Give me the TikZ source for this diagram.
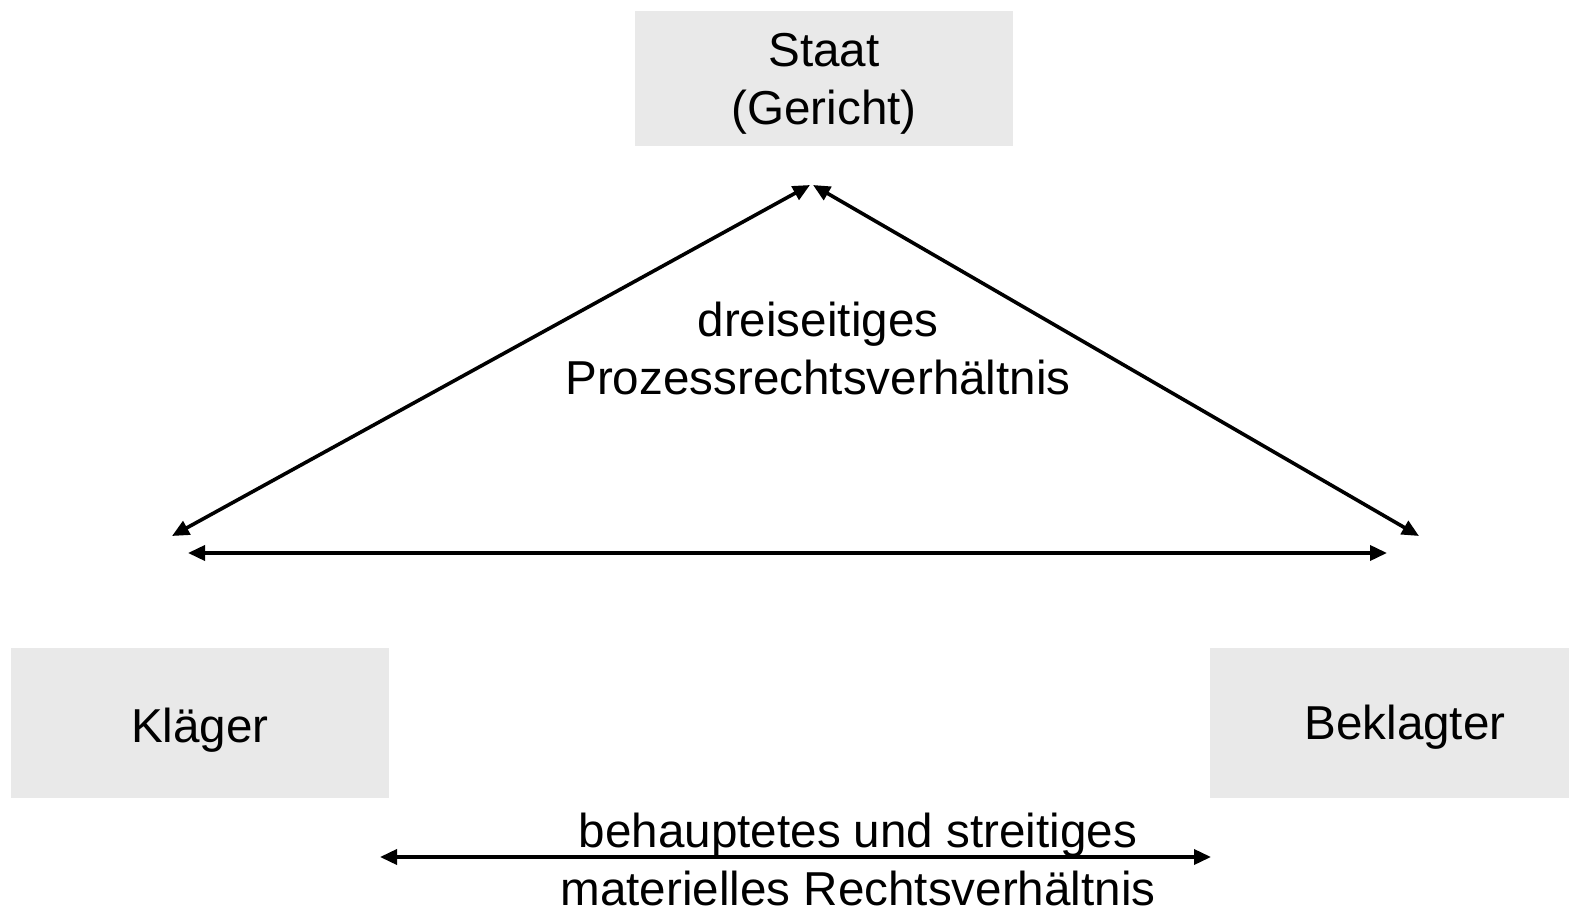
\documentclass[tikz,border=0pt]{standalone}
\usepackage{fontspec}
\setmainfont{Liberation Sans}
\usetikzlibrary{arrows.meta}
\definecolor{boxgray}{HTML}{E9E9E9}
\begin{document}
\begin{tikzpicture}[x=0.5pt,y=-0.5pt,
  box/.style={fill=boxgray, draw=none, inner sep=0pt},
  lbl/.style={font=\fontsize{23.8}{29}\selectfont, inner sep=0pt, align=center},
  tip/.tip={Triangle[length=8.5pt,width=7.5pt]},
  rel/.style={line width=1.8pt, tip-tip}]
\useasboundingbox (0,0) rectangle (1569,908);
% boxes
\node[box, minimum width=189pt, minimum height=67.5pt] (staatbox) at (824,78.5) {};
\node[box, minimum width=189pt, minimum height=75pt] (klaegerbox) at (200,723) {};
\node[box, minimum width=179.5pt, minimum height=75pt] (beklagterbox) at (1389.5,723) {};
% texts
\node[lbl] (staat) at (824,84) {Staat\\(Gericht)};
\node[lbl, anchor=base] (klaeger) at (200,742) {Kläger};
\node[lbl, anchor=base] (beklagter) at (1405,740) {Beklagter};
\node[lbl] (prozess) at (818,348) {dreiseitiges\\Prozessrechtsverhältnis};
\node[lbl] (materiell) at (858,859) {behauptetes und streitiges\\materielles Rechtsverhältnis};
% arrow end points
\coordinate (tl) at (810,185);
\coordinate (tr) at (813,185);
\coordinate (kl) at (172,536);
\coordinate (bk) at (1419,536);
\coordinate (hl) at (188,553);
\coordinate (hr) at (1387,553);
\coordinate (ml) at (380,857);
\coordinate (mr) at (1211,857);
% connectors
\draw[rel] (kl) -- (tl);
\draw[rel] (tr) -- (bk);
\draw[rel] (hl) -- (hr);
\draw[rel] (ml) -- (mr);
\end{tikzpicture}
\end{document}
